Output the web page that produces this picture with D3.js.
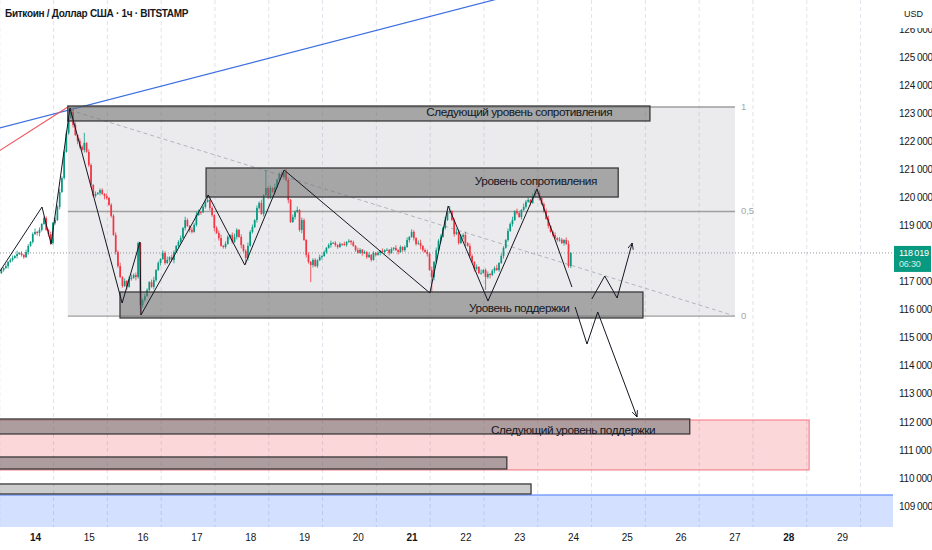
<!DOCTYPE html>
<html>
<head>
<meta charset="utf-8">
<script src="https://cdn.jsdelivr.net/npm/d3@7"></script>
<style>
	body { margin: 0; background: #fff; }
	svg { display: block; }
	text { font-family: "Liberation Sans", Arial, sans-serif; }
</style>
</head>
<body>
<script>
// hourly BTC/USD closes from 13 Jul 09:00 to 23 Jul 23:00
const candleStart = 13.375;
const firstOpen = 117300;
const closes = [
	117410, 117480, 117550, 117700, 117770, 117840, 117910, 117980, 118020, 117950,
	117870, 118050, 118270, 118410, 118690, 118770, 118730, 118840, 119050, 119260,
	118840, 118690, 118370, 119090, 119190, 119660, 120190, 120690, 121620, 122290,
	122830, 123040, 122580, 122220, 122010, 121800, 121690, 121940, 121620, 121150,
	120440, 120050, 120120, 120160, 120260, 120120, 120050, 119980, 119730, 119340,
	118660, 118050, 117550, 117160, 116840, 117020, 116810, 117090, 117130, 117230,
	117160, 118370, 116160, 116340, 116480, 116700, 116980, 116810, 117050, 117410,
	117660, 117800, 118020, 117660, 117770, 117870, 117770, 118050, 118270, 118410,
	118550, 118910, 119190, 118980, 118840, 118770, 119020, 119370, 119480, 119470,
	119660, 119840, 119910, 119620, 119370, 118910, 118730, 118550, 118270, 118230,
	118340, 118590, 118660, 118410, 118590, 118840, 118590, 118300, 118090, 117840,
	118270, 118770, 118940, 119190, 119620, 119800, 119410, 120080, 120330, 120010,
	120330, 120190, 120370, 120620, 120830, 120730, 120900, 120620, 119910, 119120,
	119300, 119480, 119550, 118840, 119190, 118480, 117950, 117700, 117590, 117770,
	117550, 117760, 117870, 117910, 118050, 118200, 118300, 118370, 118380, 118300,
	118230, 118340, 118330, 118300, 118410, 118450, 118400, 118270, 118120, 118020,
	118130, 118010, 118050, 117870, 117950, 117770, 118020, 117950, 118020, 118090,
	118050, 118120, 118130, 118020, 118160, 118200, 118120, 118050, 118230, 118120,
	118230, 118480, 118590, 118770, 118550, 118340, 118370, 118270, 118120, 118050,
	117980, 117410, 117160, 117700, 118120, 118450, 118590, 118910, 119190, 119480,
	119510, 119190, 118690, 118770, 118370, 118590, 118660, 118370, 118270, 117910,
	117700, 117450, 117520, 117300, 117310, 117410, 117160, 117270, 117230, 117380,
	117480, 117410, 117660, 117910, 118200, 118480, 118800, 119050, 119190, 119510,
	119440, 119300, 119550, 119660, 119840, 119910, 119800, 120050, 120160, 120150,
	119980, 119760, 119510, 119230, 118980, 118770, 118660, 118550, 118480, 118490,
	118370, 118480, 118340, 117550, 118019
];
// wick lengths per candle, in steps of 30 USD
const wickUp =
	"2131231412132124131221313242233243132413213122131223241313423412321341" +
	"2132413212314213243124132123413213421312423132413231422314213241321312" +
	"2131212312121312121321213121213121213121231321341232413231423124132413" +
	"21314123122413213241321423134231234123132134";
const wickDown =
	"1213121312213121342113122131212131421312312131421213212131214213212132" +
	"1312132412213132121312132413122132131421312132131221312132411312413213" +
	"1213121312212121312113121212131213121312213132142131242131212131213412" +
	"13212132413121312131213121312131213121221312";
// long wicks: [candle, high], [candle, low]
const spikeHighs = [[31, 123190], [37, 122300], [61, 118420], [92, 120080], [118, 120980], [126, 120970], [200, 119690], [239, 120410]];
const spikeLows = [[22, 118300], [56, 116700], [62, 115810], [109, 117620], [138, 116980], [192, 116630], [216, 116700], [254, 117480]];

const lastPrice = 118019;
const lastLabel = ["118\u2009019", "06:30"];
const title = "Биткоин / Доллар США · 1ч · BITSTAMP";

const dayTicks = d3.range(14, 30);
const boldDays = [14, 21, 28];
const priceTicks = d3.range(109000, 127000, 1000).filter(p => p !== 118000);

// drawings, in [day, price]
const blueLine = [[13.0, 122300], [23.5, 127520]];
const redLine = [[13.0, 121250], [14.61, 123220]];
const fibDiagonal = [[14.65, 123110], [27.01, 115770]];
const fib = {from: 14.61, to: 27.01, top: 123220, bottom: 115770};
const fibLevels = [1, 0.5, 0];
const fibNames = ["1", "0,5", "0"];

const zigzag = [
	[13.35, 117375], [14.13, 119656], [14.30, 118337], [14.65, 123184],
	[15.62, 116235], [15.95, 118409], [15.97, 115807], [17.22, 120084],
	[17.90, 117589], [18.63, 120975], [21.34, 116591], [21.68, 119692],
	[22.42, 116306], [23.33, 120298], [23.98, 116805]
];
const pathUp = [[24.35, 116377], [24.59, 117197], [24.82, 116413], [25.10, 118373]];
const pathDown = [[24.04, 116092], [24.26, 114773], [24.46, 115914], [25.19, 112172]];

const zones = [
	{x0: 12.5, x1: 28.39, p0: 112066, p1: 110284, fill: "rgba(242,54,69,0.2)", stroke: "rgba(242,54,69,0.55)"},
	{x0: 12.5, x1: 31.0, p0: 109393, p1: 107000, fill: "rgba(41,98,255,0.2)", stroke: "rgba(41,98,255,0.7)"}
];
const boxes = [
	{x0: 14.61, x1: 25.43, p0: 123256, p1: 122722, a: 0.55},
	{x0: 17.18, x1: 24.84, p0: 121046, p1: 120012, a: 0.55},
	{x0: 15.58, x1: 25.30, p0: 116627, p1: 115700, a: 0.55},
	{x0: 12.5, x1: 26.17, p0: 112101, p1: 111567, a: 0.55},
	{x0: 12.5, x1: 22.77, p0: 110747, p1: 110319, a: 0.55},
	{x0: 12.5, x1: 23.22, p0: 109785, p1: 109428, a: 0.35}
];
const labels = [
	{text: "Следующий уровень сопротивления", day: 23.0, price: 123030},
	{text: "Уровень сопротивления", day: 23.31, price: 120583},
	{text: "Уровень поддержки", day: 23.0, price: 116057},
	{text: "Следующий уровень поддержки", day: 24.0, price: 111709}
];

const width = 932, height = 550;
const plotW = 893, plotH = 527;

const x = d3.scaleLinear().domain([14, 29]).range([35, 842]);
const y = d3.scaleLinear().domain([109000, 126000]).range([506, 29]);

const svg = d3.select("body").append("svg")
	.attr("width", width)
	.attr("height", height);

const defs = svg.append("defs");
defs.append("clipPath").attr("id", "plot")
	.append("rect").attr("width", plotW).attr("height", plotH);
defs.append("marker")
	.attr("id", "arr")
	.attr("viewBox", "0 0 10 10")
	.attr("refX", 9).attr("refY", 5)
	.attr("markerWidth", 7).attr("markerHeight", 7)
	.attr("orient", "auto")
	.append("path")
		.attr("d", "M0,1 L9,5 L0,9")
		.attr("fill", "none")
		.attr("stroke", "#131722")
		.attr("stroke-width", 1.2);

const plot = svg.append("g").attr("clip-path", "url(#plot)");
const line = d3.line().x(d => x(d[0])).y(d => y(d[1]));

// vertical grid
plot.selectAll(".grid")
	.data(d3.range(13, 31))
	.enter().append("line")
		.attr("x1", d => x(d + 0.345)).attr("x2", d => x(d + 0.345))
		.attr("y1", 0).attr("y2", plotH)
		.attr("stroke", "#e0e3eb")
		.attr("stroke-dasharray", "4,3");

// zones
plot.selectAll(".zone")
	.data(zones)
	.enter().append("rect")
		.attr("x", d => x(d.x0))
		.attr("y", d => y(d.p0))
		.attr("width", d => x(d.x1) - x(d.x0))
		.attr("height", d => y(d.p1) - y(d.p0))
		.attr("fill", d => d.fill)
		.attr("stroke", d => d.stroke)
		.attr("stroke-width", 1.2);

// fib retracement
plot.append("rect")
	.attr("x", x(fib.from))
	.attr("y", y(fib.top))
	.attr("width", x(fib.to) - x(fib.from))
	.attr("height", y(fib.bottom) - y(fib.top))
	.attr("fill", "rgba(120,123,134,0.15)");
const fibPrice = l => fib.bottom + l * (fib.top - fib.bottom);
plot.selectAll(".fib")
	.data(fibLevels)
	.enter().append("line")
		.attr("x1", x(fib.from)).attr("x2", x(fib.to))
		.attr("y1", d => y(fibPrice(d))).attr("y2", d => y(fibPrice(d)))
		.attr("stroke", "#9e9e9e")
		.attr("stroke-width", 1.3);
plot.selectAll(".fibtxt")
	.data(fibLevels)
	.enter().append("text")
		.attr("x", x(fib.to) + 6)
		.attr("y", d => y(fibPrice(d)))
		.attr("dy", "0.3em")
		.attr("font-size", 9.5)
		.attr("fill", "#a3a6ad")
		.text((d, i) => fibNames[i]);
plot.append("path")
	.attr("d", line(fibDiagonal))
	.attr("fill", "none")
	.attr("stroke", "#b2b5be")
	.attr("stroke-dasharray", "4,3");

// price line
plot.append("line")
	.attr("x1", 0).attr("x2", plotW)
	.attr("y1", y(lastPrice)).attr("y2", y(lastPrice))
	.attr("stroke", "#9598a1")
	.attr("stroke-dasharray", "1,2");

// trend lines
plot.append("path").attr("d", line(blueLine))
	.attr("fill", "none").attr("stroke", "#3c6fe0").attr("stroke-width", 1.2);
plot.append("path").attr("d", line(redLine))
	.attr("fill", "none").attr("stroke", "#f05560").attr("stroke-width", 1.1);

// candles
const candles = closes.map((c, i) => {
	const o = i ? closes[i - 1] : firstOpen;
	let hi = Math.max(o, c) + (+wickUp[i] || 1) * 30;
	let lo = Math.min(o, c) - (+wickDown[i] || 1) * 30;
	spikeHighs.forEach(s => { if (s[0] === i) hi = s[1]; });
	spikeLows.forEach(s => { if (s[0] === i) lo = s[1]; });
	return {t: candleStart + i / 24, o: o, c: c, hi: hi, lo: lo};
});
const col = d => d.c >= d.o ? "#089981" : "#f23645";
const cg = plot.append("g");
cg.selectAll(".wick")
	.data(candles)
	.enter().append("line")
		.attr("x1", d => x(d.t)).attr("x2", d => x(d.t))
		.attr("y1", d => y(d.hi)).attr("y2", d => y(d.lo))
		.attr("stroke", col)
		.attr("stroke-width", 0.8);
cg.selectAll(".body")
	.data(candles)
	.enter().append("rect")
		.attr("x", d => x(d.t) - 0.85)
		.attr("width", 1.7)
		.attr("y", d => y(Math.max(d.o, d.c)))
		.attr("height", d => Math.max(0.8, Math.abs(y(d.o) - y(d.c))))
		.attr("fill", col);

// grey level boxes
plot.selectAll(".box")
	.data(boxes)
	.enter().append("rect")
		.attr("x", d => x(d.x0))
		.attr("y", d => y(d.p0))
		.attr("width", d => x(d.x1) - x(d.x0))
		.attr("height", d => y(d.p1) - y(d.p0))
		.attr("fill", d => `rgba(110,110,110,${d.a})`)
		.attr("stroke", "#3a3a3a")
		.attr("stroke-width", 1.3);

// zigzag and projections
plot.append("path").attr("d", line(zigzag))
	.attr("fill", "none").attr("stroke", "#131722").attr("stroke-width", 1);
[pathUp, pathDown].forEach(p => {
	plot.append("path").attr("d", line(p))
		.attr("fill", "none")
		.attr("stroke", "#131722")
		.attr("stroke-width", 1)
		.attr("marker-end", "url(#arr)");
});

// level labels
plot.selectAll(".lbl")
	.data(labels)
	.enter().append("text")
		.attr("x", d => x(d.day))
		.attr("y", d => y(d.price))
		.attr("dy", "0.35em")
		.attr("text-anchor", "middle")
		.attr("font-size", 11.8)
		.attr("letter-spacing", -0.45)
		.attr("fill", "#131722")
		.text(d => d.text);

// title
svg.append("text")
	.attr("x", 5).attr("y", 17)
	.attr("font-size", 10)
	.attr("font-weight", 700)
	.attr("letter-spacing", -0.3)
	.attr("fill", "#131722")
	.text(title);

// price axis
svg.append("g")
	.attr("transform", `translate(${plotW},0)`)
	.attr("font-size", 9)
	.call(d3.axisRight(y).tickValues(priceTicks).tickSize(0).tickPadding(6)
		.tickFormat(d3.formatLocale({decimal: ",", thousands: "\u2009", grouping: [3], currency: ["", ""]}).format(",d")))
	.call(g => g.select(".domain").remove())
	.selectAll("text")
		.attr("fill", "#131722")
		.attr("letter-spacing", -0.2)
		.style("font-family", "'Liberation Sans', Arial, sans-serif");

svg.append("rect")
	.attr("x", plotW).attr("y", 0)
	.attr("width", width - plotW).attr("height", 28)
	.attr("fill", "#fff");
svg.append("text")
	.attr("x", 904).attr("y", 17)
	.attr("font-size", 9)
	.attr("fill", "#131722")
	.text("USD");

// last price label
svg.append("rect")
	.attr("x", plotW + 1).attr("y", y(lastPrice) - 7)
	.attr("width", 37).attr("height", 26)
	.attr("fill", "#089981");
svg.selectAll(".lp")
	.data(lastLabel)
	.enter().append("text")
		.attr("x", plotW + 6)
		.attr("y", (d, i) => y(lastPrice) + 3 + i * 11)
		.attr("font-size", 9)
		.attr("letter-spacing", -0.2)
		.attr("fill", (d, i) => i ? "#d6f0ea" : "#fff")
		.text(d => d);

// time axis
svg.append("g")
	.attr("transform", `translate(0,${plotH})`)
	.attr("font-size", 9.5)
	.call(d3.axisBottom(x).tickValues(dayTicks).tickSize(0).tickPadding(7).tickFormat(d3.format("d")))
	.call(g => g.select(".domain").remove())
	.selectAll("text")
		.attr("fill", "#131722")
		.attr("font-weight", d => boldDays.includes(d) ? 700 : 400)
		.style("font-family", "'Liberation Sans', Arial, sans-serif");
</script>
</body>
</html>
